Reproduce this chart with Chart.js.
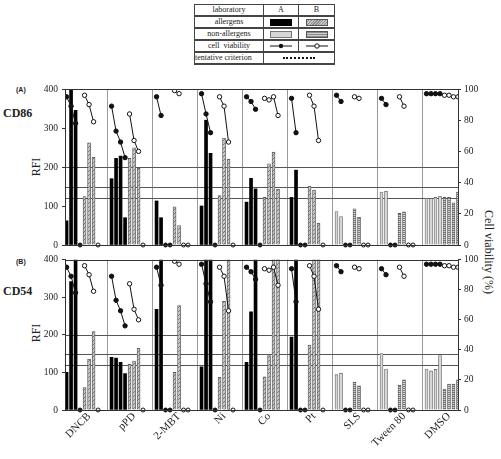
<!DOCTYPE html>
<html>
<head>
<meta charset="utf-8">
<script src="https://cdn.jsdelivr.net/npm/chart.js@4.4.1/dist/chart.umd.min.js"></script>
<style>
  body { margin: 0; width: 501px; height: 459px; position: relative; overflow: hidden; background: #fff; font-family: "Liberation Serif", serif; color: #222; }
  canvas { position: absolute; left: 0; }
  #key { position: absolute; left: 194px; top: 4px; width: 140px; border-collapse: collapse; table-layout: fixed; font: 8px "Liberation Serif", serif; color: #222; }
  #key td { border: 1px solid #444; border-top-width: 2px; height: 10px; padding: 0; text-align: center; line-height: 10px; }
  #key tr:first-child td { border-top-width: 1px; }
  #key tr:last-child td { border-bottom-width: 2px; }
  .sw { display: inline-block; width: 20px; height: 5px; vertical-align: middle; border: 1px solid #555; }
  .blk { background: #000; border-color: #000; }
  .hat { background: repeating-linear-gradient(135deg, #c8c8c8 0 1px, #8c8c8c 1px 2px); }
  .lgt { background: #d6d6d6; border-color: #777; }
  .str { background: repeating-linear-gradient(0deg, #8a8a8a 0 1px, #d0d0d0 1px 2px); }
  .dots { display: inline-block; width: 32px; border-top: 2px dotted #111; vertical-align: middle; }
  .tag { position: absolute; font: bold 7px "Liberation Sans", Arial, sans-serif; }
  .cd { position: absolute; font: bold 12px "Liberation Serif", serif; }
  .rot { position: absolute; font-size: 12px; white-space: nowrap; transform: translate(-50%, -50%) rotate(-90deg); }
  .rot90 { position: absolute; font-size: 12px; white-space: nowrap; transform: translate(-50%, -50%) rotate(90deg); }
</style>
</head>
<body>

<table id="key">
  <colgroup><col style="width:69px"><col style="width:35px"><col style="width:36px"></colgroup>
  <tr><td>laboratory</td><td>A</td><td>B</td></tr>
  <tr><td>allergens</td><td><span class="sw blk"></span></td><td><span class="sw hat"></span></td></tr>
  <tr><td>non-allergens</td><td><span class="sw lgt"></span></td><td><span class="sw str"></span></td></tr>
  <tr><td>cell&nbsp;&nbsp;viability</td>
      <td><svg width="22" height="6" style="vertical-align:middle"><line x1="0" y1="3" x2="22" y2="3" stroke="#111"/><circle cx="11" cy="3" r="2.2" fill="#111"/></svg></td>
      <td><svg width="22" height="6" style="vertical-align:middle"><line x1="0" y1="3" x2="22" y2="3" stroke="#111"/><circle cx="11" cy="3" r="2.2" fill="#fff" stroke="#111"/></svg></td></tr>
  <tr><td style="text-align:left">tentative criterion</td><td colspan="2"><span class="dots"></span></td></tr>
</table>

<div class="tag" style="left:16px; top:86px">(A)</div>
<div class="cd" style="left:3px; top:106px">CD86</div>
<div class="rot" style="left:36px; top:167px">RFI</div>
<div class="tag" style="left:16px; top:258px">(B)</div>
<div class="cd" style="left:3px; top:284px">CD54</div>
<div class="rot" style="left:36px; top:333px">RFI</div>
<div class="rot90" style="left:488px; top:252px">Cell viability (%)</div>

<canvas id="c86" width="501" height="255" style="top:0"></canvas>
<canvas id="c54" width="501" height="209" style="top:250px"></canvas>

<script>
// test compounds (first six allergens, last three non-allergens)
const compounds = ['DNCB', 'pPD', '2-MBT', 'Ni', 'Co', 'Pt', 'SLS', 'Tween 80', 'DMSO'];
const isAllergen = [1, 1, 1, 1, 1, 1, 0, 0, 0];

// RFI for 4 concentrations per lab; 0 = not evaluated (dot on the baseline)
const cd86A = [[62, 420, 345, 0], [170, 222, 228, 70], [113, 70, 0, 0], [100, 320, 235, 0], [110, 171, 144, 0],
               [122, 192, 0, 0], [86, 73, 0, 0], [136, 138, 0, 0], [120, 119, 122, 125]];
const cd86B = [[124, 262, 225, 0], [222, 249, 197, 0], [98, 50, 0, 0], [127, 274, 220, 0], [122, 208, 238, 143],
               [151, 141, 56, 0], [93, 71, 0, 0], [81, 85, 0, 0], [122, 122, 108, 136]];
const cd54A = [[100, 342, 420, 0], [140, 138, 127, 97], [268, 420, 0, 0], [115, 420, 420, 0], [127, 261, 420, 0],
               [194, 420, 0, 0], [94, 98, 0, 0], [150, 109, 0, 0], [109, 104, 108, 145]];
const cd54B = [[60, 135, 209, 0], [122, 130, 164, 0], [100, 278, 0, 0], [87, 289, 420, 0], [88, 145, 420, 420],
               [173, 420, 420, 0], [74, 64, 0, 0], [66, 80, 0, 0], [56, 69, 69, 80]];

// cell viability (%)
const viabA = [[95, 89, 78, null], [89, 73, 66, 56], [95, 83, null, null], [97, 84, 72, null], [95, 92, 87, null],
               [94, 72, null, null], [96, 92, null, null], [94, 90, null, null], [97, 97, 97, 97]];
const viabB = [[96, 90, 79, null], [84, 67, 60, null], [99, 97, null, null], [95, 89, 66, null], [94, 93, 95, 83],
               [96, 89, 67, null], [95, 94, null, null], [95, 89, null, null], [96, 96, 95, 95]];

const criteria = [200, 150, 120];
const rfiTicks = [0, 100, 200, 300, 400];
const viabTicks = [0, 20, 40, 60, 80, 100];

Chart.defaults.font.family = '"Liberation Serif", "Times New Roman", serif';
Chart.defaults.color = '#222';

function pattern(bg, fg, kind) {
  const c = document.createElement('canvas');
  c.width = 4; c.height = 4;
  const g = c.getContext('2d');
  g.fillStyle = bg; g.fillRect(0, 0, 4, 4);
  g.strokeStyle = fg; g.lineWidth = 1;
  g.beginPath();
  if (kind == 'diag') {
    g.moveTo(0, 4); g.lineTo(4, 0);
    g.moveTo(-1, 1); g.lineTo(1, -1);
    g.moveTo(3, 5); g.lineTo(5, 3);
  } else {
    g.moveTo(0, 0.5); g.lineTo(4, 0.5);
    g.moveTo(0, 2.5); g.lineTo(4, 2.5);
  }
  g.stroke();
  return g.createPattern(c, 'repeat');
}

const xpos = (g, lab, i) => g * 10 + lab * 4 + i;

function bars(vals, lab, allergen) {
  const out = [];
  vals.forEach((row, g) => {
    if (!!isAllergen[g] !== allergen) return;
    row.forEach((v, i) => { if (v) out.push({ x: xpos(g, lab, i), y: v }); });
  });
  return out;
}

function notDone(vals, lab) {
  const out = [];
  vals.forEach((row, g) => row.forEach((v, i) => { if (v === 0) out.push({ x: xpos(g, lab, i), y: 0 }); }));
  return out;
}

function viab(vals, lab) {
  const out = [];
  vals.forEach((row, g) => {
    row.forEach((v, i) => { if (v != null) out.push({ x: xpos(g, lab, i), y: v }); });
    out.push({ x: g * 10 + 8.5, y: null });
  });
  return out;
}

const extras = {
  id: 'extras',
  beforeDatasetsDraw(chart) {
    const { ctx, chartArea: a, scales } = chart;
    ctx.save();
    ctx.strokeStyle = '#555';
    ctx.lineWidth = 1;
    criteria.forEach(c => {
      const y = Math.round(scales.y.getPixelForValue(c)) + 0.5;
      ctx.beginPath(); ctx.moveTo(a.left, y); ctx.lineTo(a.right, y); ctx.stroke();
    });
    ctx.restore();
  },
  afterDatasetsDraw(chart) {
    const { ctx, chartArea: a } = chart;
    ctx.save();
    ctx.strokeStyle = '#333';
    ctx.lineWidth = 1;
    ctx.strokeRect(Math.round(a.left) + 0.5, Math.round(a.top) + 0.5, Math.round(a.right - a.left), Math.round(a.bottom - a.top));
    ctx.restore();
  }
};

function makeChart(id, rfiA, rfiB, padTop, padBottom, withLabels) {
  const hatchB = pattern('#c4c4c4', '#7a7a7a', 'diag');
  const stripeB = pattern('#d2d2d2', '#7c7c7c', 'horiz');

  const scales = {
    x: {
      type: 'linear', min: -0.35, max: 87, offset: false,
      afterBuildTicks: s => { s.ticks = [9, 19, 29, 39, 49, 59, 69, 79].map(v => ({ value: v })); },
      afterFit: s => { s.height = 0; },
      ticks: { display: false },
      grid: { color: '#9a9a9a', drawTicks: false, offset: false },
      border: { display: false }
    },
    y: {
      position: 'left', min: 0, max: 400,
      afterBuildTicks: s => { s.ticks = rfiTicks.map(v => ({ value: v })); },
      afterFit: s => { s.width = 65; },
      ticks: { font: { size: 9.5 }, padding: 4, color: '#222' },
      grid: { drawOnChartArea: false, tickLength: 3, color: '#333' },
      border: { color: '#333' }
    },
    yv: {
      position: 'right', min: 0, max: 100,
      afterBuildTicks: s => { s.ticks = viabTicks.map(v => ({ value: v })); },
      afterFit: s => { s.width = 43; },
      ticks: { font: { size: 9.5 }, padding: 3, color: '#222' },
      grid: { drawOnChartArea: false, tickLength: 3, color: '#333' },
      border: { color: '#333' }
    }
  };
  if (withLabels) {
    scales.xl = {
      type: 'linear', position: 'bottom', min: -0.35, max: 87, offset: false,
      afterBuildTicks: s => { s.ticks = compounds.map((c, g) => ({ value: g * 10 + 5 })); },
      afterFit: s => { s.height = padBottom; },
      ticks: {
        autoSkip: false, minRotation: 45, maxRotation: 45, padding: 0,
        font: { size: 11 }, color: '#222',
        callback: (v, i) => compounds[i]
      },
      grid: { display: false, drawTicks: false, offset: false },
      border: { display: false }
    };
  }

  return new Chart(document.getElementById(id), {
    type: 'bar',
    data: {
      datasets: [
        { type: 'line', data: viab(viabA, 0), yAxisID: 'yv', borderColor: '#111', borderWidth: 1,
          pointRadius: 2.2, pointBackgroundColor: '#111', pointBorderColor: '#111', pointBorderWidth: 1, spanGaps: false, order: 0 },
        { type: 'line', data: viab(viabB, 1), yAxisID: 'yv', borderColor: '#111', borderWidth: 1,
          pointRadius: 2.2, pointBackgroundColor: '#fff', pointBorderColor: '#111', pointBorderWidth: 1, spanGaps: false, order: 0 },
        { type: 'line', data: notDone(rfiA, 0), yAxisID: 'y', showLine: false, clip: false,
          pointRadius: 2, pointBackgroundColor: '#111', pointBorderColor: '#111', order: 1 },
        { type: 'line', data: notDone(rfiB, 1), yAxisID: 'y', showLine: false, clip: false,
          pointRadius: 2, pointBackgroundColor: '#fff', pointBorderColor: '#111', pointBorderWidth: 1, order: 1 },
        { data: bars(rfiA, 0, true), backgroundColor: '#000', borderColor: '#000', borderWidth: 0, order: 2 },
        { data: bars(rfiB, 1, true), backgroundColor: hatchB, borderColor: '#555', borderWidth: 0.8, order: 2 },
        { data: bars(rfiA, 0, false), backgroundColor: '#d6d6d6', borderColor: '#6a6a6a', borderWidth: 0.8, order: 2 },
        { data: bars(rfiB, 1, false), backgroundColor: stripeB, borderColor: '#555', borderWidth: 0.8, order: 2 }
      ]
    },
    options: {
      responsive: false,
      animation: false,
      layout: { padding: { top: padTop, bottom: withLabels ? 0 : padBottom, left: 0, right: 0 } },
      datasets: { bar: { grouped: false, barThickness: 3 } },
      plugins: { legend: { display: false }, tooltip: { enabled: false } },
      scales: scales
    },
    plugins: [extras]
  });
}

makeChart('c86', cd86A, cd86B, 89, 10, false);
makeChart('c54', cd54A, cd54B, 6, 49, true);
</script>
</body>
</html>
